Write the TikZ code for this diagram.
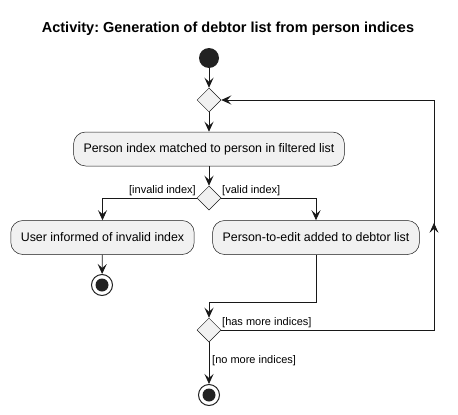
\documentclass[tikz,border=0pt]{standalone}
\usepackage{fontspec}
\setmainfont{Liberation Sans}
\usetikzlibrary{arrows.meta,shapes.geometric,decorations.markings}
\definecolor{boxfill}{HTML}{F1F1F1}
\definecolor{ink}{HTML}{181818}
\definecolor{dark}{HTML}{222222}
\tikzset{
  actbox/.style={draw=ink, fill=boxfill, rounded corners=12pt, line width=0.5pt, minimum height=34pt, inner xsep=10pt, font=\fontsize{12.4}{14}\selectfont, text=black},
  decision/.style={draw=ink, fill=boxfill, diamond, line width=0.5pt, minimum width=24pt, minimum height=24pt, inner sep=0pt, aspect=1},
  startdot/.style={circle, fill=dark, minimum size=20pt, inner sep=0pt},
  enddot/.style={circle, draw=dark, fill=white, line width=1pt, minimum size=21pt, inner sep=0pt, path picture={\fill[dark] (path picture bounding box.center) circle (6.5pt);}},
  flow/.style={draw=ink, line width=0.8pt, -{Stealth[length=10pt,width=9pt,inset=4pt]}},
  guard/.style={font=\fontsize{11}{13}\selectfont, inner sep=1pt, text=black},
}
\begin{document}
\begin{tikzpicture}[x=1pt,y=-1pt]
\useasboundingbox (0,0) rectangle (458,415);
\node[font=\bfseries\fontsize{14.5}{16}\selectfont] (title) at (228,29) {Activity:\ Generation of debtor list from person indices};
\node[startdot] (start) at (209,58) {};
\node[decision] (d1) at (209,100) {};
\node[actbox, minimum width=270pt] (match) at (209,149) {Person index matched to person in filtered list};
\node[decision] (d2) at (209,198) {};
\node[actbox, minimum width=181pt] (inv) at (102.5,237.5) {User informed of invalid index};
\node[actbox, minimum width=206pt] (add) at (316,237.5) {Person-to-edit added to debtor list};
\node[enddot] (end1) at (102,285) {};
\node[decision] (d3) at (209,330) {};
\node[enddot] (end2) at (209,395) {};
\coordinate (j1) at (316,302);
\coordinate (j2) at (209,302);
\coordinate (l1) at (434,330);
\coordinate (l2) at (434,100);

\draw[flow] (start) -- (d1);
\draw[flow] (d1) -- (match);
\draw[flow] (match) -- (d2);
\draw[flow] (d2.west) -| (inv.north);
\draw[flow] (d2.east) -| (add.north);
\draw[flow] (inv) -- (end1);
\draw[line width=0.8pt, draw=ink] (add.south) -- (j1) -- (j2);
\draw[flow] (j2) -- (d3.north);
\draw[flow] (d3) -- (end2);
\draw[flow, postaction={decorate, decoration={markings, mark=at position 0.488 with {\arrow{Stealth[length=10pt,width=9pt,inset=4pt]}}}}] (d3.east) -- (l1) -- (l2) -- (d1.east);

\node[guard, anchor=south east] at (197,197) {[invalid index]};
\node[guard, anchor=south west] at (221,197) {[valid index]};
\node[guard, anchor=south west] at (221,329) {[has more indices]};
\node[guard, anchor=west] at (211,361) {[no more indices]};
\end{tikzpicture}
\end{document}
